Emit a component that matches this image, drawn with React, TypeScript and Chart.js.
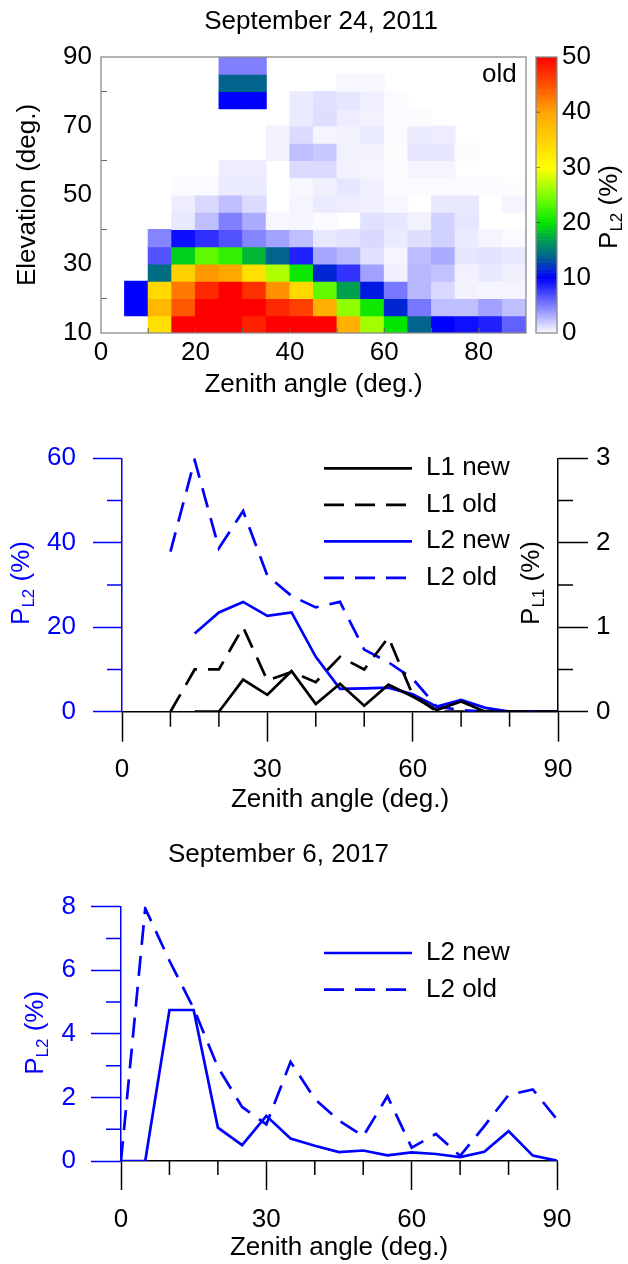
import React, { useEffect, useRef } from "react";
import { Chart, registerables } from "chart.js";

Chart.register(...registerables);

const FONT = "'Liberation Sans', Arimo, Arial, Helvetica, sans-serif";
Chart.defaults.font.family = FONT;
Chart.defaults.font.size = 26;
Chart.defaults.color = "#000000";

const BLUE = "#0000ff";
const BLACK = "#000000";
const FRAME = "#8a8a8a";

// ---------------- Panel 1: heat map (September 24, 2011, "old") ----------------
const heatTitle = "September 24, 2011";
const zenithBinStarts = [0, 5, 10, 15, 20, 25, 30, 35, 40, 45, 50, 55, 60, 65, 70, 75, 80, 85];
const elevationBinStarts = [10, 15, 20, 25, 30, 35, 40, 45, 50, 55, 60, 65, 70, 75, 80, 85];
const BIN = 5;
const _ = null;
// P_L2 (%) per zenith bin, one array per elevation bin
const el10 = [_, _, 33.4, 52, 52, 52, 48, 52, 52, 52, 38.8, 26.3, 20, 14, 10, 9.4, 8.7, 6.2];
const el15 = [_, 10, 37.9, 44.7, 52, 52, 52, 47.6, 46.1, 38.8, 25.6, 20.6, 11.5, 5.3, 2.5, 2.5, 3.7, 2.5];
const el20 = [_, 10, 34.3, 42.7, 47.6, 52, 47.1, 41.3, 34.3, 23.8, 17, 11, 5.3, 2.8, 1.5, 0.5, 0.4, 0.4];
const el25 = [_, _, 14.5, 35.2, 40.8, 39.7, 33.4, 26.9, 20.5, 11.5, 8, 3.7, 0.6, 2.8, 2.4, 0.5, 0.9, 0.6];
const el30 = [_, _, 6.8, 19, 23.8, 21.9, 18, 14, 8.7, 3.5, 2.8, 1.2, 0.4, 2.6, 3.3, 1.0, 1.1, 0.9];
const el35 = [_, _, 4.8, 9.5, 8.2, 6.8, 4.8, 3.6, 2.5, 0.9, 1.1, 1.5, 0.8, 1.3, 1.8, 0.8, 0.4, 0.2];
const el40 = [_, _, _, 0.9, 2.5, 5, 3.3, 0.3, 0.4, 0.2, _, 1.2, 1.0, 0.5, 1.8, 1.0, _, _];
const el45 = [_, _, _, 0.7, 1.5, 2.5, 1.4, _, 0.4, 0.8, 0.7, 0.6, 0.3, _, 0.9, 0.9, _, 0.4];
const el50 = [_, _, _, 0.2, 0.2, 0.8, 0.8, _, 0.3, 0.6, 1.0, 0.6, 0.2, 0.2, 0.2, 0.2, 0.2, 0.1];
const el55 = [_, _, _, _, _, 0.7, 0.7, _, 1.4, 1.4, 0.5, 0.4, 0.2, 0.4, 0.4, _, _, _];
const el60 = [_, _, _, _, _, _, _, 0.5, 2.5, 2.1, 0.5, 0.5, 0.1, 1.0, 1.0, 0.1, _, _];
const el65 = [_, _, _, _, _, _, _, 0.5, 1.4, 0.4, 0.5, 0.8, 0.2, 0.8, 0.7, _, _, _];
const el70 = [_, _, _, _, _, _, _, _, 0.8, 1.3, 0.7, 0.5, 0.2, 0.1, _, _, _, _];
const el75 = [_, _, _, _, _, 10, 10, _, 0.8, 1.2, 1.0, 0.6, 0.2, _, _, _, _, _];
const el80 = [_, _, _, _, _, 14, 14, _, _, _, 0.3, 0.3, _, _, _, _, _, _];
const el85 = [_, _, _, _, _, 5, 5, _, _, _, _, _, _, _, _, _, _, _];
const heatRows = [el10, el15, el20, el25, el30, el35, el40, el45, el50, el55, el60, el65, el70, el75, el80, el85];

const heatXTicks = [0, 20, 40, 60, 80];
const heatXInner = [10, 20, 30, 40, 50, 60, 70, 80];
const heatYTicks = [10, 30, 50, 70, 90];
const heatYInner = [20, 40, 60, 80];
const colorbarTicks = [0, 10, 20, 30, 40, 50];
const colorbarMin = 0;
const colorbarMax = 50;
// colormap stops: [value, r, g, b]
const colorStops: number[][] = [
  [0, 255, 255, 255],
  [10, 0, 0, 255],
  [14, 0, 100, 140],
  [17, 0, 160, 80],
  [20, 0, 230, 0],
  [25, 128, 255, 0],
  [30, 255, 255, 0],
  [40, 255, 165, 0],
  [50, 255, 0, 0],
];

function cmap(v: number): string {
  const x = Math.max(colorbarMin, Math.min(colorbarMax, v));
  for (let i = 1; i < colorStops.length; i++) {
    const a = colorStops[i - 1];
    const b = colorStops[i];
    if (x <= b[0]) {
      const t = (x - a[0]) / (b[0] - a[0]);
      const r = Math.round(a[1] + (b[1] - a[1]) * t);
      const g = Math.round(a[2] + (b[2] - a[2]) * t);
      const bl = Math.round(a[3] + (b[3] - a[3]) * t);
      return `rgb(${r},${g},${bl})`;
    }
  }
  return "rgb(255,0,0)";
}

// ---------------- Panel 2: zenith profiles, 2011 ----------------
const zenith = [0, 5, 10, 15, 20, 25, 30, 35, 40, 45, 50, 55, 60, 65, 70, 75, 80, 85, 90];
const l1New2011 = [_, _, _, 0, 0, 0.38, 0.2, 0.48, 0.09, 0.33, 0.07, 0.32, 0.18, 0.02, 0.12, 0, 0, 0, 0];
const l1Old2011 = [_, _, 0, 0.5, 0.5, 1.0, 0.37, 0.47, 0.35, 0.65, 0.5, 0.88, 0.2, 0, 0, 0, 0, 0, 0];
const l2New2011 = [_, _, _, 18.5, 23.5, 26.0, 22.7, 23.5, 13.0, 5.4, 5.5, 5.7, 4.1, 1.2, 2.8, 0.9, 0, 0, 0];
const l2Old2011 = [_, _, 37.9, 59.6, 38.7, 47.5, 32.2, 27.4, 24.7, 26.0, 14.7, 11.7, 7.8, 1.2, 0.4, 0, 0, 0, 0];
const midXTicks = [0, 30, 60, 90];
const midXMinor = [10, 20, 40, 50, 70, 80];
const midLeftTicks = [0, 20, 40, 60];
const midLeftMinor = [10, 30, 50];
const midRightTicks = [0, 1, 2, 3];
const midRightMinor = [0.5, 1.5, 2.5];

// ---------------- Panel 3: zenith profiles, 2017 ----------------
const botTitle = "September 6, 2017";
const l2New2017 = [0, 0, 4.75, 4.75, 1.05, 0.5, 1.42, 0.71, 0.48, 0.28, 0.33, 0.18, 0.27, 0.22, 0.12, 0.29, 0.94, 0.17, 0.01];
const l2Old2017 = [0, 7.95, 6.3, 4.8, 2.95, 1.7, 1.15, 3.12, 1.95, 1.27, 0.78, 2.04, 0.42, 0.85, 0.16, 1.1, 2.08, 2.25, 1.31];
const botXTicks = [0, 30, 60, 90];
const botXMinor = [10, 20, 40, 50, 70, 80];
const botLeftTicks = [0, 2, 4, 6, 8];
const botLeftMinor = [1, 3, 5, 7];

const xTitle = "Zenith angle (deg.)";
const pL2Parts = [{ t: "P" }, { t: "L2", sub: true }, { t: " (%)" }];
const pL1Parts = [{ t: "P" }, { t: "L1", sub: true }, { t: " (%)" }];

// ---------------- helpers ----------------
function toXY(ys: (number | null)[]) {
  return zenith.map((z, i) => ({ x: z, y: ys[i] }));
}

function drawRich(ctx: CanvasRenderingContext2D, parts: any[], cx: number, cy: number, color: string, size: number) {
  ctx.save();
  ctx.translate(cx, cy);
  ctx.rotate(-Math.PI / 2);
  ctx.fillStyle = color;
  ctx.textBaseline = "middle";
  ctx.textAlign = "left";
  const big = `${size}px ${FONT}`;
  const small = `${Math.round(size * 0.65)}px ${FONT}`;
  let w = 0;
  parts.forEach((p) => {
    ctx.font = p.sub ? small : big;
    w += ctx.measureText(p.t).width;
  });
  let x = -w / 2;
  parts.forEach((p) => {
    ctx.font = p.sub ? small : big;
    ctx.fillText(p.t, x, p.sub ? size * 0.28 : 0);
    x += ctx.measureText(p.t).width;
  });
  ctx.restore();
}

function makeMinorTicks(items: { scale: string; values: number[]; len: number; color: string }[]) {
  return {
    id: "minorTicks",
    afterDraw(chart: any) {
      const { ctx, chartArea: ca } = chart;
      ctx.save();
      items.forEach((it) => {
        const s = chart.scales[it.scale];
        ctx.strokeStyle = it.color;
        ctx.lineWidth = 1.5;
        ctx.beginPath();
        it.values.forEach((v) => {
          const p = s.getPixelForValue(v);
          if (s.axis === "x") {
            ctx.moveTo(p, ca.bottom);
            ctx.lineTo(p, ca.bottom + it.len);
          } else if (s.position === "left") {
            ctx.moveTo(ca.left - it.len, p);
            ctx.lineTo(ca.left, p);
          } else {
            ctx.moveTo(ca.right, p);
            ctx.lineTo(ca.right + it.len, p);
          }
        });
        ctx.stroke();
      });
      ctx.restore();
    },
  };
}

function makeLegend(dx: number, dy: number, step: number, lineLen: number, gap: number) {
  return {
    id: "lineLegend",
    afterDraw(chart: any) {
      const { ctx, chartArea: ca } = chart;
      ctx.save();
      ctx.font = `26px ${FONT}`;
      ctx.textBaseline = "middle";
      ctx.textAlign = "left";
      chart.data.datasets.forEach((ds: any, i: number) => {
        const x = ca.left + dx;
        const y = ca.top + dy + i * step;
        ctx.beginPath();
        ctx.setLineDash(ds.borderDash || []);
        ctx.strokeStyle = ds.borderColor;
        ctx.lineWidth = ds.borderWidth;
        ctx.moveTo(x, y);
        ctx.lineTo(x + lineLen, y);
        ctx.stroke();
        ctx.setLineDash([]);
        ctx.fillStyle = BLACK;
        ctx.fillText(ds.label, x + lineLen + gap, y);
      });
      ctx.restore();
    },
  };
}

function makeRichTitles(items: { parts: any[]; x: (ca: any) => number; y: (ca: any) => number; color: string }[]) {
  return {
    id: "richTitles",
    afterDraw(chart: any) {
      const { ctx, chartArea: ca } = chart;
      items.forEach((it) => drawRich(ctx, it.parts, it.x(ca), it.y(ca), it.color, 26));
    },
  };
}

const setTicks = (vals: number[]) => (s: any) => {
  s.ticks = vals.map((v) => ({ value: v }));
};

// ---------------- chart configs ----------------
function heatConfig(): any {
  const cells: any[] = [];
  heatRows.forEach((row, r) =>
    row.forEach((v, c) => {
      if (v === null) return;
      const lo = elevationBinStarts[r];
      cells.push({ x: zenithBinStarts[c] + BIN / 2, y: [lo, lo + BIN], v });
    })
  );

  const heatDecor = {
    id: "heatDecor",
    afterDraw(chart: any) {
      const { ctx, chartArea: ca } = chart;
      const xs = chart.scales.x;
      const ys = chart.scales.y;
      const cs = chart.scales.c;
      ctx.save();
      // inward ticks
      ctx.strokeStyle = "#666666";
      ctx.lineWidth = 1;
      ctx.beginPath();
      heatXInner.forEach((v) => {
        const p = xs.getPixelForValue(v);
        ctx.moveTo(p, ca.bottom);
        ctx.lineTo(p, ca.bottom - 5);
      });
      heatYInner.forEach((v) => {
        const p = ys.getPixelForValue(v);
        ctx.moveTo(ca.left, p);
        ctx.lineTo(ca.left + 6, p);
      });
      ctx.stroke();
      // frame
      ctx.strokeStyle = FRAME;
      ctx.lineWidth = 1.3;
      ctx.strokeRect(ca.left, ca.top, ca.right - ca.left, ca.bottom - ca.top);
      // colorbar strip
      const bx = ca.right + 10;
      const bw = 21;
      const stepV = 0.25;
      for (let v = colorbarMin; v < colorbarMax; v += stepV) {
        const y0 = cs.getPixelForValue(v);
        const y1 = cs.getPixelForValue(v + stepV);
        ctx.fillStyle = cmap(v + stepV / 2);
        ctx.fillRect(bx, y1, bw, y0 - y1 + 0.6);
      }
      ctx.strokeStyle = "rgba(0,0,0,0.45)";
      ctx.lineWidth = 1;
      ctx.beginPath();
      colorbarTicks.slice(1, -1).forEach((v) => {
        const p = cs.getPixelForValue(v);
        ctx.moveTo(bx, p);
        ctx.lineTo(bx + 4, p);
      });
      ctx.stroke();
      ctx.strokeStyle = FRAME;
      ctx.lineWidth = 1.3;
      ctx.strokeRect(bx, cs.getPixelForValue(colorbarMax), bw, cs.getPixelForValue(colorbarMin) - cs.getPixelForValue(colorbarMax));
      // "old" label
      ctx.fillStyle = BLACK;
      ctx.font = `26px ${FONT}`;
      ctx.textBaseline = "middle";
      ctx.textAlign = "left";
      ctx.fillText("old", ca.right - 44, ca.top + 18);
      ctx.restore();
      drawRich(ctx, pL2Parts, ca.right + 84, (ca.top + ca.bottom) / 2 + 12, BLACK, 26);
    },
  };

  return {
    type: "bar",
    data: {
      datasets: [
        {
          label: "P_L2 old",
          data: cells,
          backgroundColor: (c: any) => cmap(c.raw ? c.raw.v : 0),
          borderWidth: 0,
          barPercentage: 1,
          categoryPercentage: 1,
          inflateAmount: 0.5,
        },
      ],
    },
    options: {
      responsive: false,
      animation: false,
      devicePixelRatio: 1,
      layout: { padding: { left: 14, right: 0, top: 0, bottom: 0 } },
      events: [],
      plugins: {
        legend: { display: false },
        tooltip: { enabled: false },
        title: {
          display: true,
          text: heatTitle,
          color: BLACK,
          font: { size: 26, weight: "normal" },
          padding: { top: 6.4, bottom: 19.4 },
        },
      },
      scales: {
        x: {
          type: "linear",
          min: 0,
          max: 90,
          offset: false,
          stacked: false,
          grid: { display: false, drawTicks: false },
          border: { display: false },
          afterBuildTicks: setTicks(heatXTicks),
          ticks: { padding: 4.4, maxRotation: 0, autoSkip: false, color: BLACK },
          title: { display: true, text: xTitle, color: BLACK, padding: { top: 0, bottom: 19.4 } },
          afterFit: (s: any) => {
            s.height = 87;
          },
        },
        y: {
          type: "linear",
          min: 10,
          max: 90,
          grid: { display: false, drawTicks: false },
          border: { display: false },
          afterBuildTicks: setTicks(heatYTicks),
          ticks: { padding: 9, color: BLACK },
          title: { display: true, text: "Elevation (deg.)", color: BLACK, padding: { top: -1.6, bottom: 0 } },
          afterFit: (s: any) => {
            s.width = 87;
          },
        },
        c: {
          type: "linear",
          position: "right",
          min: colorbarMin,
          max: colorbarMax,
          grid: { display: false, drawTicks: false },
          border: { display: false },
          afterBuildTicks: setTicks(colorbarTicks),
          ticks: { padding: 36, color: BLACK },
          afterFit: (s: any) => {
            s.width = 102;
          },
        },
      },
    },
    plugins: [heatDecor],
  };
}

const DASH = [20, 11];
const LW = 2.7;

function lineDs(label: string, ys: (number | null)[], color: string, dashed: boolean, axis: string) {
  return {
    label,
    data: toXY(ys),
    borderColor: color,
    backgroundColor: color,
    borderWidth: LW,
    borderDash: dashed ? DASH : [],
    pointRadius: 0,
    tension: 0,
    fill: false,
    yAxisID: axis,
  };
}

function xAxis(ticks: number[], tickLen: number, pad: number, titleBottom: number, height: number) {
  return {
    type: "linear",
    min: 0,
    max: 90,
    grid: { display: true, drawOnChartArea: false, drawTicks: true, tickLength: tickLen, tickColor: BLACK, tickWidth: 1.5 },
    border: { display: true, color: BLACK, width: 1.5 },
    afterBuildTicks: setTicks(ticks),
    ticks: { padding: pad, color: BLACK, maxRotation: 0, autoSkip: false },
    title: { display: true, text: xTitle, color: BLACK, padding: { top: 0, bottom: titleBottom } },
    afterFit: (s: any) => {
      s.height = height;
    },
  };
}

function yAxis(position: string, min: number, max: number, ticks: number[], color: string, tickLen: number, pad: number, width: number) {
  return {
    type: "linear",
    position,
    min,
    max,
    grid: { display: true, drawOnChartArea: false, drawTicks: true, tickLength: tickLen, tickColor: color, tickWidth: 1.5 },
    border: { display: true, color, width: 1.5 },
    afterBuildTicks: setTicks(ticks),
    ticks: { padding: pad, color },
    afterFit: (s: any) => {
      s.width = width;
    },
  };
}

function midConfig(): any {
  return {
    type: "line",
    data: {
      datasets: [
        lineDs("L1 new", l1New2011, BLACK, false, "y1"),
        lineDs("L1 old", l1Old2011, BLACK, true, "y1"),
        lineDs("L2 new", l2New2011, BLUE, false, "y"),
        lineDs("L2 old", l2Old2011, BLUE, true, "y"),
      ],
    },
    options: {
      responsive: false,
      animation: false,
      devicePixelRatio: 1,
      events: [],
      layout: { padding: { top: 38.3, left: 0, right: 0, bottom: 0 } },
      plugins: { legend: { display: false }, tooltip: { enabled: false }, title: { display: false } },
      scales: {
        x: xAxis(midXTicks, 30, 12.7, 4.4, 108.3),
        y: yAxis("left", 0, 60, midLeftTicks, BLUE, 29, 17, 122),
        y1: yAxis("right", 0, 3, midRightTicks, BLACK, 30, 8, 70),
      },
    },
    plugins: [
      makeMinorTicks([
        { scale: "x", values: midXMinor, len: 15, color: BLACK },
        { scale: "y", values: midLeftMinor, len: 15, color: BLUE },
        { scale: "y1", values: midRightMinor, len: 15, color: BLACK },
      ]),
      makeLegend(202, 10, 36.5, 88, 14),
      makeRichTitles([
        { parts: pL2Parts, x: () => 22, y: (ca) => (ca.top + ca.bottom) / 2 - 2, color: BLUE },
        { parts: pL1Parts, x: (ca) => ca.right - 26, y: (ca) => (ca.top + ca.bottom) / 2 - 2, color: BLACK },
      ]),
    ],
  };
}

function botConfig(): any {
  return {
    type: "line",
    data: {
      datasets: [lineDs("L2 new", l2New2017, BLUE, false, "y"), lineDs("L2 old", l2Old2017, BLUE, true, "y")],
    },
    options: {
      responsive: false,
      animation: false,
      devicePixelRatio: 1,
      events: [],
      layout: { padding: { top: 0, left: 0, right: 71, bottom: 0 } },
      plugins: {
        legend: { display: false },
        tooltip: { enabled: false },
        title: {
          display: true,
          text: botTitle,
          color: BLACK,
          font: { size: 26, weight: "normal" },
          padding: { top: 19.4, bottom: 36.1 },
        },
      },
      scales: {
        x: xAxis(botXTicks, 29, 14.4, 0.4, 103),
        y: yAxis("left", 0, 8, botLeftTicks, BLUE, 30, 15, 121),
      },
    },
    plugins: [
      makeMinorTicks([
        { scale: "x", values: botXMinor, len: 14, color: BLACK },
        { scale: "y", values: botLeftMinor, len: 15, color: BLUE },
      ]),
      makeLegend(203, 46.3, 36.7, 88, 14),
      makeRichTitles([{ parts: pL2Parts, x: () => 36, y: (ca) => (ca.top + ca.bottom) / 2 - 1, color: BLUE }]),
    ],
  };
}

export default function App() {
  const refA = useRef<HTMLCanvasElement>(null);
  const refB = useRef<HTMLCanvasElement>(null);
  const refC = useRef<HTMLCanvasElement>(null);

  useEffect(() => {
    const charts = [
      new Chart(refA.current as HTMLCanvasElement, heatConfig()),
      new Chart(refB.current as HTMLCanvasElement, midConfig()),
      new Chart(refC.current as HTMLCanvasElement, botConfig()),
    ];
    return () => charts.forEach((c) => c.destroy());
  }, []);

  return (
    <div style={{ position: "absolute", left: 0, top: 0, width: 628, height: 1264, background: "#ffffff", overflow: "hidden" }}>
      <canvas ref={refA} width={628} height={420} style={{ position: "absolute", left: 0, top: 0, width: 628, height: 420 }} />
      <canvas ref={refB} width={628} height={400} style={{ position: "absolute", left: 0, top: 420, width: 628, height: 400 }} />
      <canvas ref={refC} width={628} height={444} style={{ position: "absolute", left: 0, top: 820, width: 628, height: 444 }} />
    </div>
  );
}
